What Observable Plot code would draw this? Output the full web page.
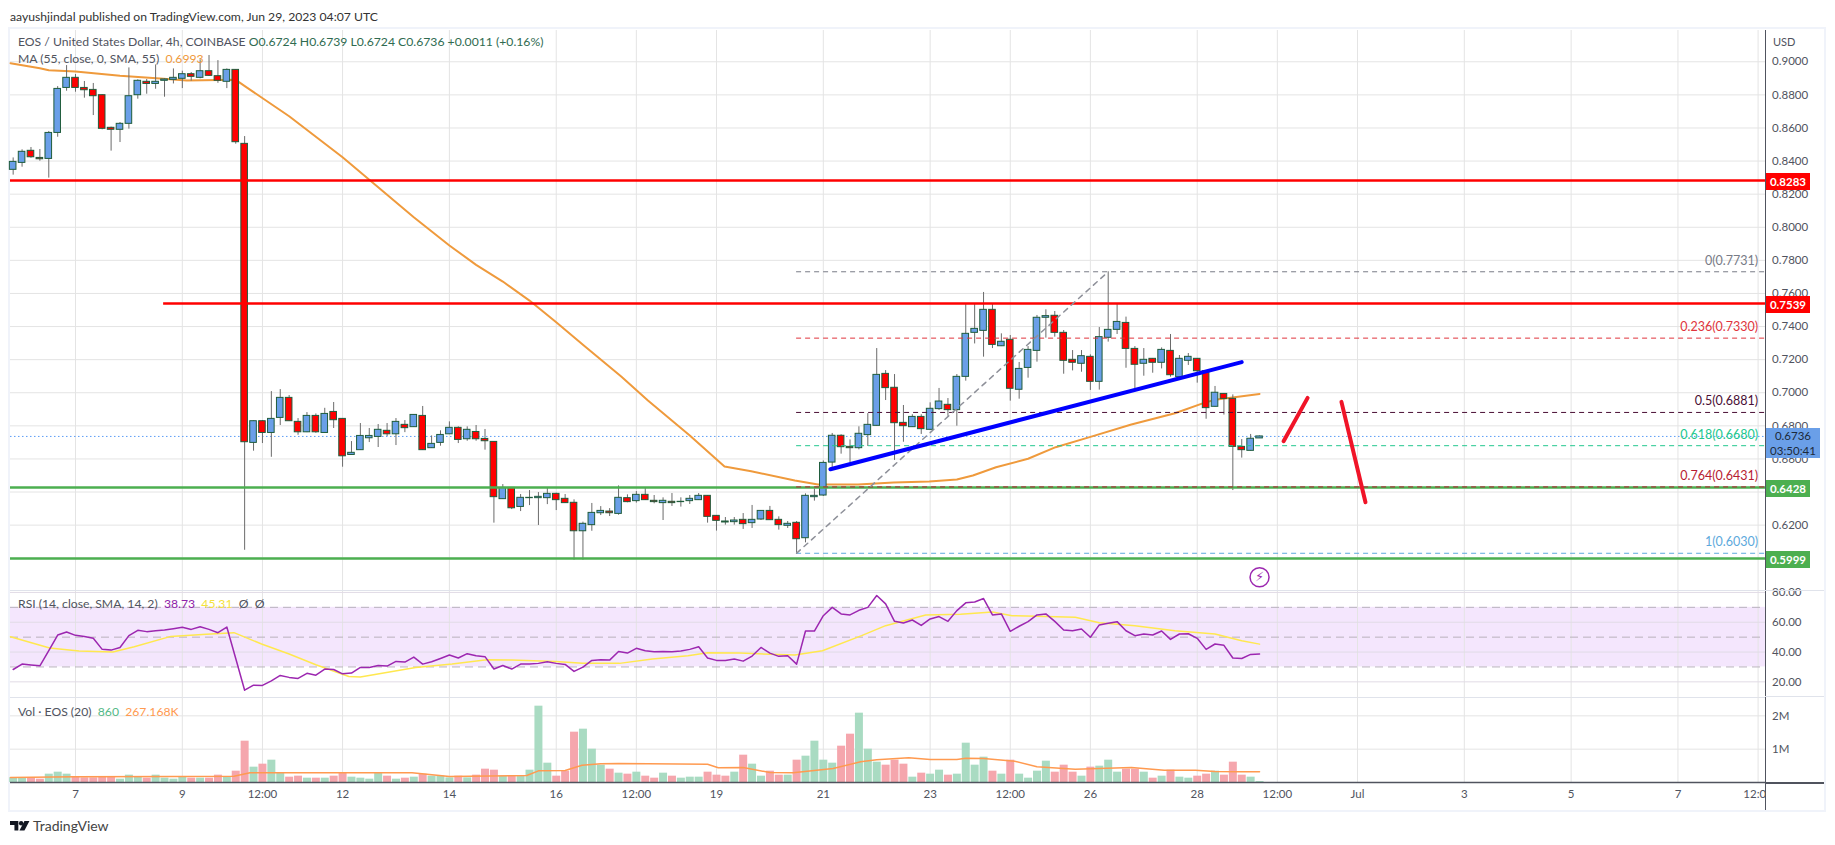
<!DOCTYPE html>
<html>
<head>
<meta charset="utf-8">
<script src="https://cdn.jsdelivr.net/npm/d3@7"></script>
<script src="https://cdn.jsdelivr.net/npm/@observablehq/plot@0.6"></script>
<style>
  html, body { margin: 0; padding: 0; background: #fff; overflow: hidden; }
  body { width: 1835px; height: 845px; position: relative; font-family: Lato, "Noto Sans", sans-serif; font-size: 12.2px; color: #50535e; }
  .pane { position: absolute; left: 0; }
  .abs { position: absolute; white-space: pre; line-height: 16px; }
  .frame { position: absolute; left: 8px; top: 27px; width: 1814px; height: 781px; border: 2px solid #f0f3fa; }
  .tag { position: absolute; left: 1766px; width: 44px; height: 17px; line-height: 17px; text-align: center; color: #fff; font-weight: 700; font-size: 11.5px; }
</style>
</head>
<body>
<div class="abs" style="left:10px;top:9px;color:#333">aayushjindal published on TradingView.com, Jun 29, 2023 04:07 UTC</div>
<div class="frame"></div>
<div id="pane_main" class="pane" style="top:30px"></div>
<div id="pane_rsi" class="pane" style="top:590px"></div>
<div id="pane_vol" class="pane" style="top:697px"></div>

<div class="abs" style="left:18px;top:34px">EOS / United States Dollar, 4h, COINBASE <span style="color:#2f6b50">O0.6724 H0.6739 L0.6724 C0.6736 +0.0011 (+0.16%)</span></div>
<div class="abs" style="left:18px;top:51px">MA (55, close, 0, SMA, 55)  <span style="color:#ef9a3c">0.6993</span></div>
<div class="abs" style="left:18px;top:596px">RSI (14, close, SMA, 14, 2)  <span style="color:#8e24aa">38.73</span>  <span style="color:#f5e23c">45.31</span>  Ø  Ø</div>
<div class="abs" style="left:18px;top:704px">Vol · EOS (20)  <span style="color:#53b987">860</span>  <span style="color:#ff9a50">267.168K</span></div>
<div class="abs" style="left:1773px;top:34px;font-size:11px">USD</div>

<svg class="abs" style="left:10px;top:820px" width="20" height="12" viewBox="0 0 36 20">
  <path d="M0 1h15v17H8V8H0z" fill="#131722"/><circle cx="20" cy="5" r="4" fill="#131722"/><path d="M26 1h9l-9 17h-9z" fill="#131722"/>
</svg>
<div class="abs" style="left:33px;top:818px;font-size:14px;color:#444">TradingView</div>

<script>
// first candle sits 7 bars before the "7" tick, so index 0 = Jun 7 00:00
const firstIndex = -7

const opens = [.8347,.8389,.8462,.8419,.8413,.8570,.8842,.8903,.8842,.8830,.8798,.8601,.8589,.8625,.8798,.8879,.8866,.8885,.8891,.8897,.8925,.8903,.8943,.8913,.8879,.8951,
  .8504,.6697,.6828,.6757,.6848,.6969,.6824,.6761,.6860,.6757,.6884,.6842,.6624,.6653,.6725,.6733,.6770,.6749,.6806,.6792,.6860,.6665,.6697,.6749,.6788,.6719,.6763,.6721,.6703,
  .6357,.6425,.6310,.6363,.6363,.6363,.6389,.6359,.6335,.6163,.6200,.6272,.6282,.6268,
  .6363,.6345,.6383,.6347,.6333,.6341,.6339,.6345,.6351,.6377,.6256,.6222,.6218,.6232,.6212,.6234,.6286,.6232,.6196,.6214,.6121,.6369,.6379,.6578,.6740,.6673,.6665,.6744,
  .6800,.7114,.7030,.6818,.6792,.6854,.6776,.6901,.6927,.6895,.7096,.7362,.7374,.7501,.7281,.7320,.7018,.7150,.7253,.7453,.7465,.7362,.7199,.7175,.7217,.7066,.7332,.7380,.7422,.7265,.7175,.7205,.7181,.7253,.7094,.7193,.7205,.7130,.6915,.6993,.6963,.6673,.6649,.6724]
const highs = [.8419,.8468,.8482,.8470,.8579,.8850,.8977,.8923,.8881,.8869,.8800,.8605,.8633,.8963,.8891,.8893,.8981,.8897,.8957,.8943,.8935,.9012,.9038,.9007,.8957,.8953,
  .8548,.6830,.6832,.7007,.7019,.6983,.6844,.6880,.6872,.6906,.6941,.6844,.6705,.6814,.6784,.6808,.6814,.6844,.6832,.6868,.6917,.6739,.6770,.6824,.6794,.6794,.6802,.6778,.6705,
  .6445,.6427,.6385,.6409,.6397,.6425,.6393,.6385,.6353,.6218,.6331,.6312,.6300,.6437,
  .6383,.6403,.6421,.6379,.6365,.6391,.6365,.6379,.6391,.6379,.6258,.6246,.6246,.6270,.6319,.6288,.6313,.6250,.6222,.6222,.6389,.6419,.6588,.6754,.6746,.6715,.6794,.6874,
  .7267,.7134,.7110,.6923,.6867,.6867,.6939,.7026,.6965,.7110,.7533,.7537,.7606,.7537,.7356,.7346,.7183,.7279,.7467,.7501,.7491,.7376,.7255,.7255,.7229,.7394,.7731,.7537,.7457,.7279,.7267,.7207,.7271,.7352,.7225,.7237,.7207,.7132,.7038,.6995,.6987,.6717,.6748,.6739]
const lows = [.8315,.8363,.8417,.8399,.8297,.8544,.8822,.8816,.8780,.8675,.8589,.8460,.8512,.8593,.8774,.8804,.8834,.8786,.8866,.8838,.8883,.8897,.8911,.8870,.8838,.8502,
  .6048,.6647,.6693,.6610,.6802,.6826,.6743,.6759,.6755,.6755,.6784,.6550,.6622,.6651,.6699,.6669,.6735,.6681,.6759,.6790,.6651,.6663,.6677,.6747,.6693,.6707,.6707,.6653,.6212,
  .6355,.6294,.6282,.6318,.6198,.6324,.6288,.6331,.5988,.5988,.6163,.6258,.6252,.6260,
  .6335,.6333,.6349,.6329,.6228,.6313,.6309,.6325,.6349,.6212,.6164,.6200,.6200,.6174,.6180,.6228,.6228,.6170,.6180,.6030,.6093,.6345,.6373,.6540,.6629,.6576,.6655,.6675,
  .6798,.6953,.6591,.6701,.6790,.6748,.6774,.6893,.6858,.6798,.7070,.7295,.7215,.7267,.7279,.6949,.6961,.7088,.7185,.7330,.7336,.7112,.7132,.7124,.7014,.7016,.7306,.7352,.7148,.7024,.7100,.7118,.7144,.7094,.7092,.7165,.7058,.6840,.6913,.6865,.6409,.6605,.6647,.6724]
const closes = [.8395,.8456,.8423,.8411,.8570,.8836,.8903,.8842,.8828,.8792,.8595,.8589,.8625,.8792,.8885,.8866,.8879,.8893,.8903,.8925,.8909,.8943,.8915,.8885,.8951,.8514,
  .6701,.6828,.6757,.6842,.6969,.6828,.6761,.6860,.6761,.6872,.6834,.6616,.6637,.6739,.6739,.6776,.6749,.6824,.6786,.6866,.6653,.6691,.6745,.6788,.6715,.6776,.6719,.6707,.6369,
  .6425,.6302,.6365,.6365,.6371,.6389,.6351,.6333,.6163,.6208,.6274,.6286,.6272,.6365,
  .6339,.6383,.6351,.6339,.6347,.6333,.6341,.6359,.6377,.6250,.6226,.6216,.6228,.6206,.6232,.6286,.6230,.6200,.6208,.6115,.6377,.6377,.6576,.6740,.6671,.6665,.6752,.6806,
  .7108,.7028,.6816,.6798,.6854,.6780,.6903,.6947,.6895,.7096,.7356,.7386,.7501,.7289,.7308,.7024,.7144,.7259,.7453,.7463,.7362,.7193,.7181,.7221,.7066,.7336,.7380,.7428,.7265,.7169,.7199,.7181,.7259,.7106,.7205,.7217,.7130,.6907,.7000,.6963,.6673,.6653,.6722,.6736]

// volume in millions
const volumes = [.14,.14,.14,.10,.25,.31,.25,.18,.14,.14,.18,.18,.10,.22,.16,.13,.22,.13,.10,.16,.13,.13,.13,.22,.17,.34,1.24,.46,.55,.67,.28,.16,.19,.13,.13,.13,.19,.28,.16,.13,.10,.28,.19,.10,.13,.16,.25,.19,.19,.14,.19,.14,.22,.40,.37,.19,.19,.19,.37,2.29,.58,.19,.34,1.51,1.60,1.00,.52,.40,.28,
  .25,.31,.19,.13,.28,.19,.13,.16,.16,.31,.22,.19,.31,.82,.55,.19,.34,.22,.22,.67,.79,1.24,.67,.58,1.09,1.45,2.08,1.00,.61,.52,.67,.55,.16,.28,.25,.37,.22,.25,1.18,.52,.76,.34,.25,.67,.25,.13,.34,.64,.31,.52,.31,.19,.46,.49,.67,.31,.40,.40,.31,.13,.19,.37,.16,.13,.19,.25,.34,.22,.61,.22,.16,.03]

const rsiValues = [28.3,31.9,31.3,30.8,40.9,51.4,53.5,51.2,50.5,49.2,41.8,41.3,43.1,51.0,54.6,53.7,54.3,54.8,55.7,56.6,55.2,57.0,55.2,53.0,56.8,35.7,14.4,17.8,17.6,20.7,24.3,23.0,22.3,25.7,24.5,28.6,28.3,25.4,25.9,29.7,29.7,31.0,30.6,33.7,33.3,36.6,31.9,33.5,35.7,38.0,36.0,38.9,37.5,36.9,28.6,31.0,28.6,31.9,31.9,32.4,33.5,32.4,31.7,27.0,29.9,34.4,34.8,34.6,40.4,
  39.3,42.5,40.9,40.2,40.4,40.2,40.7,41.8,43.6,36.0,34.4,34.4,35.3,33.9,37.3,43.1,39.3,37.1,37.5,31.9,54.1,54.1,64.4,70.0,65.6,64.9,68.0,70.0,77.9,72.3,60.6,59.5,61.5,57.9,62.2,63.8,60.6,67.8,73.0,73.6,75.9,64.9,65.6,53.9,57.3,60.4,64.9,65.6,60.6,54.8,54.3,55.5,49.9,58.2,59.3,60.4,54.3,51.0,52.1,51.4,54.1,48.5,52.1,52.3,49.2,41.8,45.4,44.5,36.0,35.7,38.4,38.73]

const maIdx = [-7.3,-4,-3,0,5,9.5,12.5,18,19.1,24,30,33.1,38,42,45,48,51,54,57.1,61.3,64.3,69,72.9,75.9,80.8,83.4,87.9,91.9,95.9,99,100.8,103.4,107,110.1,114.1,118.6,123.5,127,128,133]
const maVal = [.8991,.8961,.8949,.8941,.8915,.8899,.8887,.8891,.8850,.8671,.8423,.8282,.8061,.7890,.7773,.7672,.7557,.7426,.7285,.7098,.6953,.6742,.6554,.6526,.6470,.6445,.6445,.6458,.6464,.6476,.6500,.6550,.6601,.6671,.6735,.6808,.6876,.6943,.6957,.6993]

const rsiMaIdx = [-7.3,-2.9,0.4,4.2,6.6,10.7,14.7,17.8,20.9,24,27,30.7,32,38.2,42.3,46.2,49,53.9,57,61.1,64.8,68.8,71,74.6,80.8,83.9,88.3,91,95.5,99.4,103,105.2,107.9,112.3,115,119,123.5,128,131,133]
const rsiMaVal = [50.3,42.7,40.7,40,43.6,50.5,51.9,53,45.4,38.7,31.5,23.6,23.2,29.7,31.9,34.8,34.6,33.7,32.4,32.4,35.3,37.5,39.6,39.3,38,40.9,51,57.7,64.9,65.3,66.9,64.4,64,63.3,59.7,57.7,54.3,52.1,47.6,45.31]

const volMaIdx = [-7.3,0,11,17.8,19.6,23,37.8,42,50.7,52,55,56.9,59,61,71,72.2,75,78,80.6,85.1,88.2,90,93.6,96,99,100,102,105.5,108,112.3,118.6,122.3,125.8,128,131,133]
const volMaVal = [.15,.17,.18,.19,.29,.29,.29,.18,.21,.35,.36,.52,.56,.57,.55,.44,.45,.30,.29,.42,.62,.68,.74,.69,.69,.73,.72,.64,.47,.40,.45,.37,.37,.33,.32,.32]

const tickPos = [0,12,21,30,42,54,63,72,84,96,105,114,126,135,144,156,168,180,189]
const tickLabels = ['7','9','12:00','12','14','16','12:00','19','21','23','12:00','26','28','12:00','Jul','3','5','7','12:00']

const priceTicks = [.62,.64,.66,.68,.70,.72,.74,.76,.78,.80,.82,.84,.86,.88,.90,.60]
const rsiTicks = [80,60,40,20]
const volTicks = [1,2]

// fib retracement levels
const fibRatios = ['0','0.236','0.5','0.618','0.764','1']
const fibValues = [.7731,.7330,.6881,.6680,.6431,.6030]
const fibColors = ['#787b86','#e0343c','#4a0f35','#22c78e','#b71c32','#5da9dc']

const levelValues = [.8283,.7539,.6428,.5999]
const levelColors = ['#ff0000','#ff0000','#4caf50','#4caf50']
const levelStart = [-7.3,9.9,-7.3,-7.3]

const bars = opens.map((o, k) => ({
  i: firstIndex + k,
  open: o,
  high: highs[k],
  low: lows[k],
  close: closes[k],
  vol: volumes[k],
  rsi: rsiValues[k],
  up: closes[k] >= o
}))
const fibs = fibValues.map((v, k) => ({ v, color: fibColors[k], label: `${fibRatios[k]}(${v.toFixed(4)})` }))
const levels = levelValues.map((v, k) => ({ v, color: levelColors[k], from: levelStart[k] }))
const maLine = maIdx.map((x, k) => ({ x, y: maVal[k] }))
const rsiMaLine = rsiMaIdx.map((x, k) => ({ x, y: rsiMaVal[k] }))
const volMaLine = volMaIdx.map((x, k) => ({ x, y: volMaVal[k] }))

const xStart = -7.3
const xEnd = 189.9
const gridColor = '#e4e4e4'
const baseOpts = {
  width: 1835, marginLeft: 10, marginRight: 69.4, marginTop: 0, marginBottom: 0,
  x: { type: 'linear', domain: [xStart, xEnd] },
  style: { background: 'transparent', fontFamily: 'Lato, "Noto Sans", sans-serif', fontSize: '11.5px', color: '#50535e', overflow: 'visible' }
}
const grid = () => Plot.ruleX(tickPos, { stroke: gridColor })

/* precio */
const chartMain = Plot.plot({
  ...baseOpts,
  height: 560,
  y: { domain: [.5805, .9189] },
  marks: [
    grid(),
    Plot.ruleY(priceTicks, { stroke: gridColor }),
    Plot.axisX({ ticks: [], tickSize: 0, label: null }),
    Plot.axisY({ anchor: 'right', ticks: priceTicks, tickFormat: d3.format('.4f'), tickSize: 0, tickPadding: 6, label: null }),
    Plot.ruleY([.6736], { x1: xStart, x2: xEnd, stroke: '#5b9cf6', strokeDasharray: '1.5,2.5' }),
    Plot.line(maLine, { x: 'x', y: 'y', stroke: '#ef9a3c', strokeWidth: 2 }),
    Plot.ruleX(bars, { x: 'i', y1: 'low', y2: 'high', stroke: '#6b6b6b' }),
    Plot.rect(bars, {
      x1: d => d.i - 0.37, x2: d => d.i + 0.37, y1: 'open', y2: 'close',
      fill: d => d.up ? '#6a9fe8' : '#ff0000', stroke: '#1f5c3c', strokeWidth: 1
    }),
    Plot.ruleY(levels, { y: 'v', x1: 'from', x2: xEnd, stroke: 'color', strokeWidth: 2.5 }),
    Plot.ruleY(fibs, { y: 'v', x1: 81, x2: xEnd, stroke: 'color', strokeDasharray: '5,4' }),
    Plot.line([{ x: 81, y: .6030 }, { x: 116, y: .7731 }], { x: 'x', y: 'y', stroke: '#8e9099', strokeDasharray: '5,5' }),
    Plot.text(fibs, { x: 189, y: 'v', text: 'label', fill: 'color', textAnchor: 'end', dy: -11, fontSize: 12.5 }),
    Plot.line([{ x: 84.8, y: .6538 }, { x: 131, y: .7185 }], { x: 'x', y: 'y', stroke: '#0000ff', strokeWidth: 4 }),
    Plot.line([{ x: 135.7, y: .6707 }, { x: 138.4, y: .6969 }], { x: 'x', y: 'y', stroke: '#f01428', strokeWidth: 4, strokeLinecap: 'round' }),
    Plot.line([{ x: 142.2, y: .6945 }, { x: 144.9, y: .6338 }], { x: 'x', y: 'y', stroke: '#f01428', strokeWidth: 4, strokeLinecap: 'round' }),
    Plot.dot([{ x: 133, y: .5885 }], { x: 'x', y: 'y', r: 9.5, stroke: '#9c27b0', strokeWidth: 1.5, fill: '#fff' }),
    Plot.text([{ x: 133, y: .5885 }], { x: 'x', y: 'y', text: () => '\u26A1\uFE0E', fill: '#9c27b0', fontSize: 13, fontFamily: 'DejaVu Sans' })
  ]
})
d3.select('#pane_main').append(() => chartMain)

/* RSI */
const chartRsi = Plot.plot({
  ...baseOpts,
  height: 107,
  y: { domain: [9.5, 81.3] },
  marks: [
    Plot.rectY([0], { x1: xStart, x2: xEnd, y1: 30, y2: 70, fill: '#f4e6fd' }),
    grid(),
    Plot.ruleY(rsiTicks, { stroke: '#e1dbe6' }),
    Plot.ruleY([70, 50, 30], { stroke: '#b9b2bd', strokeDasharray: '8,5' }),
    Plot.ruleY([9.5], { stroke: '#e0e3eb' }),
    Plot.axisX({ ticks: [], tickSize: 0, label: null }),
    Plot.axisY({ anchor: 'right', ticks: rsiTicks, tickFormat: d3.format('.2f'), tickSize: 0, tickPadding: 6, label: null }),
    Plot.line(rsiMaLine, { x: 'x', y: 'y', stroke: '#ffe84f', strokeWidth: 1.5 }),
    Plot.line(bars, { x: 'i', y: 'rsi', stroke: '#9c27b0', strokeWidth: 1.5 })
  ]
})
d3.select('#pane_rsi').append(() => chartRsi)

/* volumen + eje de tiempo */
const chartVol = Plot.plot({
  ...baseOpts,
  height: 113,
  marginBottom: 28,
  y: { domain: [0, 2.55] },
  marks: [
    grid(),
    Plot.ruleY(volTicks, { stroke: gridColor }),
    Plot.axisX({ ticks: tickPos, tickFormat: d => tickLabels[tickPos.indexOf(d)], tickSize: 0, tickPadding: 7, label: null }),
    Plot.axisY({ anchor: 'right', ticks: volTicks, tickFormat: d => d + 'M', tickSize: 0, tickPadding: 6, label: null }),
    Plot.ruleX(bars, { x: 'i', y1: 0, y2: 'vol', stroke: d => d.up ? '#a9dbc2' : '#f5a6ad', strokeWidth: 8 }),
    Plot.line(volMaLine, { x: 'x', y: 'y', stroke: '#ff9a50', strokeWidth: 1.5 }),
    Plot.ruleY([0], { x1: xStart, x2: xEnd, stroke: '#50535e', strokeWidth: 1.5 })
  ]
})
d3.select('#pane_vol').append(() => chartVol)

/* etiquetas sobre el eje de precios, ubicadas con la escala del grafico */
const yMain = v => chartMain.scale('y').apply(v) + 30
const body = d3.select('body')
levels.forEach(d => {
  body.append('div').attr('class', 'tag')
    .style('top', (yMain(d.v) - 7) + 'px')
    .style('background', d.color)
    .text(d.v.toFixed(4))
})
body.append('div').attr('class', 'abs')
  .style('left', '1766px').style('width', '54px').style('top', (yMain(.6736) - 8) + 'px')
  .style('height', '30px').style('line-height', '15px').style('background', '#6a9fe8')
  .style('color', '#1d2a3a').style('text-align', 'center').style('font-size', '11.5px')
  .html('0.6736<br>03:50:41')

// eje derecho: tapa el ultimo 12:00 y traza la linea vertical
body.append('div').attr('class', 'abs').style('left', '1766px').style('top', '785px')
  .style('width', '57px').style('height', '23px').style('background', '#fff')
body.append('div').attr('class', 'abs').style('left', '1765px').style('top', '30px')
  .style('width', '1px').style('height', '780px').style('background', '#50535e')
body.append('div').attr('class', 'abs').style('left', '1765px').style('top', '782px')
  .style('width', '59px').style('height', '1.5px').style('background', '#50535e')
body.append('div').attr('class', 'abs').style('left', '1765px').style('top', '696px')
  .style('width', '59px').style('height', '1px').style('background', '#e0e3eb')
body.append('div').attr('class', 'abs').style('left', '10px').style('top', '590px')
  .style('width', '1814px').style('height', '1px').style('background', '#e0e3eb')
</script>
</body>
</html>
